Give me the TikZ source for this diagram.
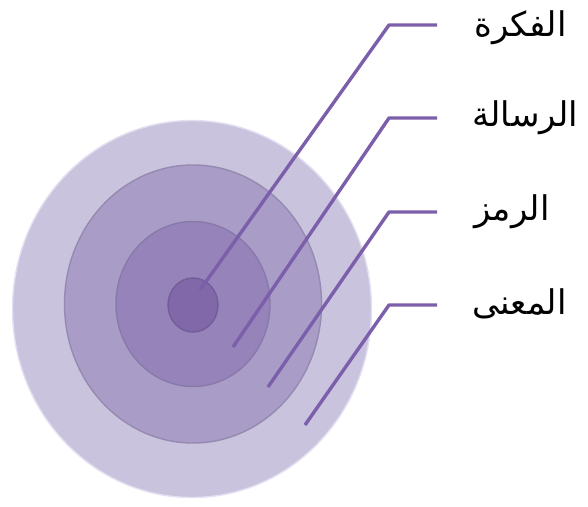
\documentclass[tikz,border=0pt]{standalone}
\usepackage{fontspec}
\usepackage{tikz}
\usetikzlibrary{shapes.geometric}
\TeXXeTstate=1
\newfontfamily\arabicfont[Script=Arabic]{DejaVu Sans}
\definecolor{ringOuter}{HTML}{C9C3DD}
\definecolor{ringSecond}{HTML}{A99DC8}
\definecolor{ringThird}{HTML}{9583B9}
\definecolor{ringCore}{HTML}{8068A9}
\definecolor{ringEdge}{HTML}{E4DFF2}
\definecolor{leaderLine}{HTML}{7C5FAB}

\begin{document}
\begin{tikzpicture}[
  x=1pt, y=-1pt,
  ring/.style={
    ellipse,
    inner sep=0pt,
    line width=1.4pt
  },
  leader/.style={
    draw=leaderLine,
    line width=3.4pt,
    line join=round
  },
  label text/.style={
    anchor=west,
    inner sep=0pt,
    font=\fontsize{34}{40}\selectfont\arabicfont
  }
]
\useasboundingbox (0,0) rectangle (588,506);

% Concentric rings, outermost first
\node[ring, fill=ringOuter, draw=ringEdge, minimum width=359pt, minimum height=377pt] (meaning) at (192,309) {};
\node[ring, fill=ringSecond, draw=ringSecond!88!black, minimum width=257pt, minimum height=278pt] (symbol) at (193,304) {};
\node[ring, fill=ringThird, draw=ringThird!92!black, minimum width=154pt, minimum height=165pt] (message) at (193,304) {};
\node[ring, fill=ringCore, draw=ringCore!90!black, minimum width=50pt, minimum height=54pt] (idea) at (193,305) {};

% Start points inside the rings
\coordinate (ideaStart) at (200,290);
\coordinate (messageStart) at (233,347);
\coordinate (symbolStart) at (268,387);
\coordinate (meaningStart) at (305,425);

% Elbows and free ends of the leaders
\coordinate (ideaBend) at (389,25);
\coordinate (messageBend) at (389,118);
\coordinate (symbolBend) at (389,212);
\coordinate (meaningBend) at (389,305);
\coordinate (ideaEnd) at (437,25);
\coordinate (messageEnd) at (437,118);
\coordinate (symbolEnd) at (437,212);
\coordinate (meaningEnd) at (437,305);

% Labels
\node[label text] (ideaLabel) at (474,28) {\beginR الفكرة\endR};
\node[label text] (messageLabel) at (472,118) {\beginR الرسالة\endR};
\node[label text] (symbolLabel) at (474,212) {\beginR الرمز\endR};
\node[label text] (meaningLabel) at (472,304) {\beginR المعنى\endR};

% Leaders
\draw[leader] (ideaStart) -- (ideaBend) -- (ideaEnd);
\draw[leader] (messageStart) -- (messageBend) -- (messageEnd);
\draw[leader] (symbolStart) -- (symbolBend) -- (symbolEnd);
\draw[leader] (meaningStart) -- (meaningBend) -- (meaningEnd);

\end{tikzpicture}
\end{document}
